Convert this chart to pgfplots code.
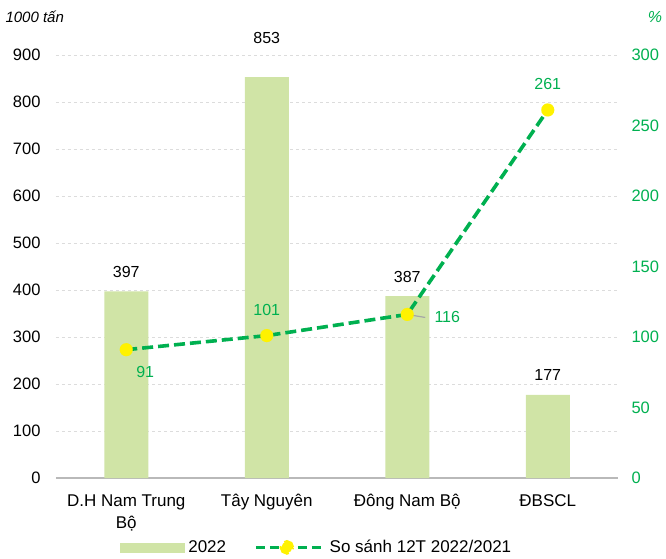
\documentclass[border=0pt]{standalone}
\usepackage{fontspec}
\setmainfont{Liberation Sans}
\usepackage{pgfplots}
\pgfplotsset{compat=1.18}
\definecolor{barg}{RGB}{208,228,166}
\definecolor{lineg}{RGB}{0,176,80}
\definecolor{gridg}{RGB}{220,220,220}
\begin{document}
\begin{tikzpicture}[font=\fontsize{16}{19}\selectfont]
\useasboundingbox (-56pt,-80pt) rectangle (610pt,478pt);
% bars, left axis
\begin{axis}[
  scale only axis, width=562pt, height=423pt,
  at={(0pt,0pt)}, anchor=south west,
  xmin=-0.5, xmax=3.5, ymin=0, ymax=900,
  axis line style={draw=none}, major tick length=0pt,
  xtick={0,1,2,3},
  xticklabels={{D.H Nam Trung\\Bộ},{Tây Nguyên},{Đông Nam Bộ},{ĐBSCL}},
  xticklabel style={align=center, font=\fontsize{17}{22}\selectfont, yshift=-13pt},
  ytick={0,100,...,900},
  yticklabel style={font=\fontsize{16.5}{19}\selectfont, xshift=-12pt},
  /pgf/number format/assume math mode=true,
  ymajorgrids, grid style={gridg, dashed, line width=0.6pt},
  extra y ticks={0}, extra y tick labels={},
  extra y tick style={grid style={solid, gray!55, line width=1.2pt}},
  clip=false,
]
\addplot[ybar, bar width=44pt, fill=barg, draw=none,
  visualization depends on={\thisrow{dy}\as\dy},
  nodes near coords,
  every node near coord/.append style={anchor=center, yshift=\dy pt, black,
    font=\fontsize{16}{18}\selectfont},
] table {
x y dy
0 397 19
1 853 39
2 387 19
3 177 20
};
\end{axis}
% line, right axis
\begin{axis}[
  scale only axis, width=562pt, height=423pt,
  at={(0pt,0pt)}, anchor=south west,
  xmin=-0.5, xmax=3.5, ymin=0, ymax=300,
  hide x axis,
  axis y line*=right, axis line style={draw=none}, major tick length=0pt,
  ytick={0,50,...,300},
  yticklabel style={anchor=west, xshift=10pt, text=lineg, font=\fontsize{16.5}{19}\selectfont},
  /pgf/number format/assume math mode=true,
  clip=false,
  legend columns=2,
  legend style={draw=none, fill=none, at={(axis description cs:0.108,-0.164)}, anchor=west,
    font=\fontsize{17}{20}\selectfont,
    nodes={inner sep=2pt},
    /tikz/every odd column/.append style={column sep=2pt},
    /tikz/every even column/.append style={column sep=26pt}},
]
\addlegendimage{legend image code/.code={\fill[barg] (0pt,-4.5pt) rectangle (64pt,4.5pt);}}
\addlegendentry{2022}
\addplot[lineg, line width=3.6pt, dash pattern=on 11pt off 5pt,
  mark=*, mark size=6.5pt, mark options={solid, fill=yellow, draw=yellow, line width=0.01pt},
  visualization depends on={\thisrow{dx}\as\dx},
  visualization depends on={\thisrow{dy}\as\dy},
  nodes near coords,
  every node near coord/.append style={anchor=center, xshift=\dx pt, yshift=\dy pt,
    text=lineg, font=\fontsize{16}{18}\selectfont},
  legend image code/.code={
    \draw[lineg, line width=3.6pt, dash pattern=on 9pt off 5pt] (0pt,0pt) -- (68pt,0pt);
    \fill[yellow] (31pt,0pt) circle (5.5pt);},
] table {
x y dx dy
0 91 19 -22
1 101 0 26
2 116 40 -3
3 261 0 26
};
\addlegendentry{So sánh 12T 2022/2021}
\draw[gray!70, line width=1.2pt] (axis cs:2,116) -- ++(18pt,-3pt);
\end{axis}
\node[font=\itshape\fontsize{15}{18}\selectfont, anchor=west] at (-54pt,461pt) {1000 tấn};
\node[font=\itshape\fontsize{16}{18}\selectfont, text=lineg] at (599pt,461pt) {\%};
\end{tikzpicture}
\end{document}
